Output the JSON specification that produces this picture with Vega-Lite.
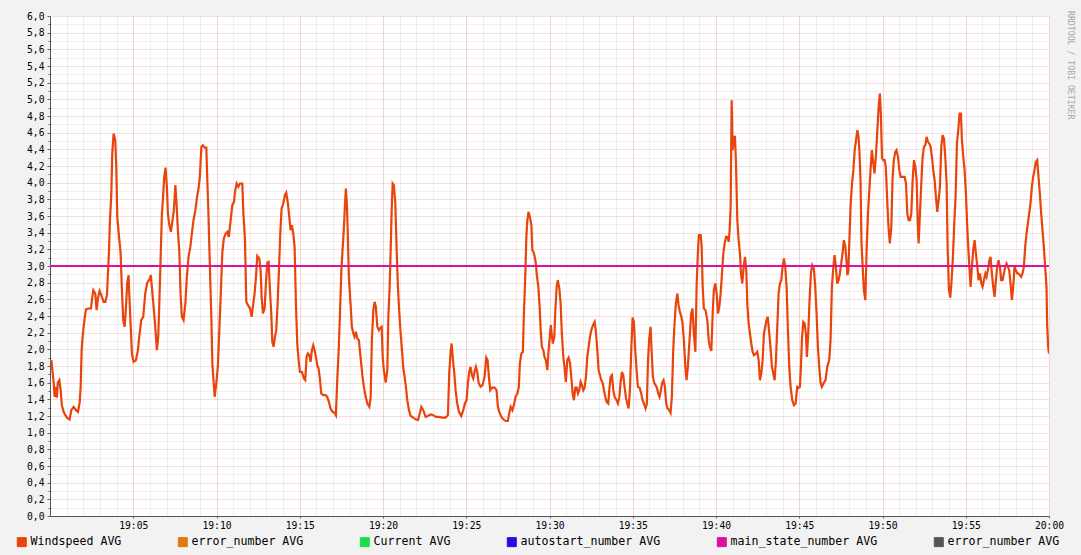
{
  "$schema": "https://vega.github.io/schema/vega-lite/v6.json",
  "width": 999,
  "height": 500,
  "autosize": {"type": "none"},
  "padding": {"left": 50, "top": 16, "right": 32, "bottom": 39},
  "background": "#f2f2f2",
  "view": {"fill": "white", "stroke": null},
  "config": {
    "font": "DejaVu Sans Mono",
    "axis": {"labelFont": "DejaVu Sans Mono", "labelFontSize": 9.7, "labelColor": "#000", "title": null}
  },
  "title": {
    "text": "RRDTOOL / TOBI OETIKER",
    "orient": "right",
    "anchor": "start",
    "angle": 90,
    "font": "DejaVu Sans Mono",
    "fontSize": 8.2,
    "fontWeight": "normal",
    "color": "#a8a8a8",
    "offset": 2
  },
  "datasets": {
    "wind": [
      {"minute":0.08,"speed":1.87},{"minute":0.16,"speed":1.72},{"minute":0.22,"speed":1.60},{"minute":0.28,"speed":1.43},{"minute":0.35,"speed":1.55},{"minute":0.41,"speed":1.42},{"minute":0.47,"speed":1.60},{"minute":0.56,"speed":1.63},{"minute":0.64,"speed":1.51},{"minute":0.71,"speed":1.33},{"minute":0.82,"speed":1.25},{"minute":0.92,"speed":1.21},{"minute":1.02,"speed":1.18},{"minute":1.18,"speed":1.16},{"minute":1.28,"speed":1.27},{"minute":1.42,"speed":1.31},{"minute":1.56,"speed":1.27},{"minute":1.68,"speed":1.25},{"minute":1.78,"speed":1.36},{"minute":1.84,"speed":1.54},{"minute":1.90,"speed":1.99},{"minute":1.96,"speed":2.15},{"minute":2.02,"speed":2.27},{"minute":2.08,"speed":2.37},{"minute":2.16,"speed":2.48},{"minute":2.32,"speed":2.49},{"minute":2.46,"speed":2.49},{"minute":2.52,"speed":2.59},{"minute":2.60,"speed":2.71},{"minute":2.72,"speed":2.67},{"minute":2.80,"speed":2.47},{"minute":2.88,"speed":2.61},{"minute":2.98,"speed":2.70},{"minute":3.08,"speed":2.65},{"minute":3.22,"speed":2.57},{"minute":3.32,"speed":2.57},{"minute":3.42,"speed":2.65},{"minute":3.48,"speed":2.91},{"minute":3.54,"speed":3.16},{"minute":3.60,"speed":3.55},{"minute":3.68,"speed":3.85},{"minute":3.74,"speed":4.35},{"minute":3.82,"speed":4.59},{"minute":3.92,"speed":4.51},{"minute":3.98,"speed":4.19},{"minute":4.04,"speed":3.59},{"minute":4.12,"speed":3.41},{"minute":4.18,"speed":3.28},{"minute":4.24,"speed":3.16},{"minute":4.32,"speed":2.71},{"minute":4.40,"speed":2.35},{"minute":4.48,"speed":2.27},{"minute":4.56,"speed":2.49},{"minute":4.64,"speed":2.80},{"minute":4.72,"speed":2.89},{"minute":4.76,"speed":2.67},{"minute":4.84,"speed":2.31},{"minute":4.92,"speed":1.95},{"minute":5.02,"speed":1.85},{"minute":5.16,"speed":1.87},{"minute":5.28,"speed":1.99},{"minute":5.36,"speed":2.15},{"minute":5.48,"speed":2.35},{"minute":5.60,"speed":2.39},{"minute":5.72,"speed":2.67},{"minute":5.84,"speed":2.80},{"minute":5.98,"speed":2.84},{"minute":6.06,"speed":2.89},{"minute":6.16,"speed":2.65},{"minute":6.24,"speed":2.47},{"minute":6.32,"speed":2.27},{"minute":6.42,"speed":1.99},{"minute":6.50,"speed":2.15},{"minute":6.56,"speed":2.51},{"minute":6.64,"speed":3.07},{"minute":6.72,"speed":3.63},{"minute":6.78,"speed":3.79},{"minute":6.86,"speed":4.07},{"minute":6.94,"speed":4.18},{"minute":7.02,"speed":3.95},{"minute":7.08,"speed":3.63},{"minute":7.17,"speed":3.49},{"minute":7.26,"speed":3.41},{"minute":7.36,"speed":3.55},{"minute":7.44,"speed":3.67},{"minute":7.53,"speed":3.97},{"minute":7.60,"speed":3.75},{"minute":7.68,"speed":3.43},{"minute":7.77,"speed":3.16},{"minute":7.84,"speed":2.67},{"minute":7.92,"speed":2.39},{"minute":8.02,"speed":2.35},{"minute":8.13,"speed":2.55},{"minute":8.22,"speed":2.87},{"minute":8.32,"speed":3.11},{"minute":8.43,"speed":3.23},{"minute":8.52,"speed":3.39},{"minute":8.62,"speed":3.55},{"minute":8.73,"speed":3.67},{"minute":8.82,"speed":3.81},{"minute":8.92,"speed":3.93},{"minute":9.00,"speed":4.07},{"minute":9.09,"speed":4.43},{"minute":9.18,"speed":4.45},{"minute":9.29,"speed":4.42},{"minute":9.39,"speed":4.42},{"minute":9.45,"speed":4.01},{"minute":9.51,"speed":3.67},{"minute":9.57,"speed":3.23},{"minute":9.63,"speed":2.80},{"minute":9.69,"speed":2.39},{"minute":9.75,"speed":1.83},{"minute":9.81,"speed":1.65},{"minute":9.89,"speed":1.43},{"minute":9.99,"speed":1.60},{"minute":10.08,"speed":1.79},{"minute":10.17,"speed":2.23},{"minute":10.25,"speed":2.63},{"minute":10.35,"speed":3.16},{"minute":10.44,"speed":3.33},{"minute":10.55,"speed":3.39},{"minute":10.65,"speed":3.41},{"minute":10.74,"speed":3.35},{"minute":10.85,"speed":3.55},{"minute":10.95,"speed":3.73},{"minute":11.05,"speed":3.77},{"minute":11.11,"speed":3.89},{"minute":11.21,"speed":3.99},{"minute":11.31,"speed":3.95},{"minute":11.41,"speed":3.99},{"minute":11.55,"speed":3.99},{"minute":11.61,"speed":3.65},{"minute":11.71,"speed":3.31},{"minute":11.79,"speed":2.57},{"minute":11.89,"speed":2.53},{"minute":12.01,"speed":2.49},{"minute":12.11,"speed":2.39},{"minute":12.21,"speed":2.55},{"minute":12.29,"speed":2.67},{"minute":12.37,"speed":2.87},{"minute":12.45,"speed":3.12},{"minute":12.57,"speed":3.09},{"minute":12.65,"speed":2.95},{"minute":12.71,"speed":2.63},{"minute":12.79,"speed":2.43},{"minute":12.89,"speed":2.49},{"minute":12.97,"speed":2.80},{"minute":13.05,"speed":3.04},{"minute":13.13,"speed":3.05},{"minute":13.21,"speed":2.71},{"minute":13.29,"speed":2.43},{"minute":13.35,"speed":2.09},{"minute":13.43,"speed":2.03},{"minute":13.51,"speed":2.15},{"minute":13.59,"speed":2.23},{"minute":13.67,"speed":2.55},{"minute":13.75,"speed":2.95},{"minute":13.83,"speed":3.39},{"minute":13.91,"speed":3.69},{"minute":14.01,"speed":3.75},{"minute":14.11,"speed":3.85},{"minute":14.19,"speed":3.88},{"minute":14.29,"speed":3.75},{"minute":14.37,"speed":3.59},{"minute":14.45,"speed":3.43},{"minute":14.53,"speed":3.49},{"minute":14.61,"speed":3.39},{"minute":14.69,"speed":3.23},{"minute":14.77,"speed":2.55},{"minute":14.85,"speed":2.07},{"minute":14.93,"speed":1.87},{"minute":15.01,"speed":1.73},{"minute":15.13,"speed":1.73},{"minute":15.25,"speed":1.65},{"minute":15.33,"speed":1.63},{"minute":15.41,"speed":1.91},{"minute":15.49,"speed":1.95},{"minute":15.57,"speed":1.93},{"minute":15.65,"speed":1.85},{"minute":15.73,"speed":1.99},{"minute":15.81,"speed":2.05},{"minute":15.89,"speed":1.99},{"minute":15.97,"speed":1.91},{"minute":16.05,"speed":1.81},{"minute":16.13,"speed":1.77},{"minute":16.21,"speed":1.65},{"minute":16.29,"speed":1.47},{"minute":16.41,"speed":1.45},{"minute":16.55,"speed":1.45},{"minute":16.65,"speed":1.43},{"minute":16.75,"speed":1.37},{"minute":16.85,"speed":1.29},{"minute":16.97,"speed":1.25},{"minute":17.09,"speed":1.24},{"minute":17.17,"speed":1.21},{"minute":17.26,"speed":1.67},{"minute":17.33,"speed":1.95},{"minute":17.41,"speed":2.39},{"minute":17.50,"speed":2.95},{"minute":17.57,"speed":3.19},{"minute":17.65,"speed":3.45},{"minute":17.71,"speed":3.71},{"minute":17.77,"speed":3.93},{"minute":17.83,"speed":3.75},{"minute":17.89,"speed":3.35},{"minute":17.95,"speed":2.87},{"minute":18.05,"speed":2.55},{"minute":18.13,"speed":2.27},{"minute":18.22,"speed":2.19},{"minute":18.29,"speed":2.15},{"minute":18.37,"speed":2.21},{"minute":18.46,"speed":2.13},{"minute":18.55,"speed":2.11},{"minute":18.65,"speed":1.91},{"minute":18.76,"speed":1.69},{"minute":18.85,"speed":1.55},{"minute":18.96,"speed":1.43},{"minute":19.06,"speed":1.35},{"minute":19.18,"speed":1.31},{"minute":19.26,"speed":1.43},{"minute":19.33,"speed":2.11},{"minute":19.42,"speed":2.47},{"minute":19.50,"speed":2.57},{"minute":19.57,"speed":2.51},{"minute":19.66,"speed":2.27},{"minute":19.75,"speed":2.23},{"minute":19.81,"speed":2.25},{"minute":19.92,"speed":2.27},{"minute":19.98,"speed":1.91},{"minute":20.05,"speed":1.75},{"minute":20.16,"speed":1.60},{"minute":20.26,"speed":1.75},{"minute":20.32,"speed":2.39},{"minute":20.40,"speed":2.75},{"minute":20.46,"speed":3.19},{"minute":20.52,"speed":3.67},{"minute":20.58,"speed":3.99},{"minute":20.65,"speed":3.97},{"minute":20.74,"speed":3.75},{"minute":20.82,"speed":3.19},{"minute":20.90,"speed":2.73},{"minute":20.98,"speed":2.43},{"minute":21.06,"speed":2.19},{"minute":21.14,"speed":1.99},{"minute":21.22,"speed":1.77},{"minute":21.30,"speed":1.67},{"minute":21.38,"speed":1.54},{"minute":21.46,"speed":1.39},{"minute":21.56,"speed":1.27},{"minute":21.66,"speed":1.20},{"minute":21.82,"speed":1.18},{"minute":21.96,"speed":1.16},{"minute":22.10,"speed":1.15},{"minute":22.22,"speed":1.24},{"minute":22.30,"speed":1.31},{"minute":22.42,"speed":1.27},{"minute":22.56,"speed":1.19},{"minute":22.70,"speed":1.20},{"minute":22.86,"speed":1.22},{"minute":23.02,"speed":1.21},{"minute":23.18,"speed":1.19},{"minute":23.36,"speed":1.19},{"minute":23.56,"speed":1.18},{"minute":23.76,"speed":1.18},{"minute":23.90,"speed":1.21},{"minute":23.98,"speed":1.72},{"minute":24.06,"speed":1.97},{"minute":24.12,"speed":2.07},{"minute":24.20,"speed":1.87},{"minute":24.28,"speed":1.72},{"minute":24.36,"speed":1.51},{"minute":24.46,"speed":1.35},{"minute":24.56,"speed":1.25},{"minute":24.70,"speed":1.20},{"minute":24.82,"speed":1.27},{"minute":24.92,"speed":1.35},{"minute":25.02,"speed":1.39},{"minute":25.10,"speed":1.60},{"minute":25.18,"speed":1.73},{"minute":25.26,"speed":1.79},{"minute":25.34,"speed":1.69},{"minute":25.42,"speed":1.65},{"minute":25.50,"speed":1.73},{"minute":25.58,"speed":1.79},{"minute":25.66,"speed":1.73},{"minute":25.74,"speed":1.60},{"minute":25.86,"speed":1.55},{"minute":25.98,"speed":1.57},{"minute":26.10,"speed":1.67},{"minute":26.20,"speed":1.90},{"minute":26.28,"speed":1.87},{"minute":26.36,"speed":1.67},{"minute":26.44,"speed":1.51},{"minute":26.54,"speed":1.54},{"minute":26.70,"speed":1.54},{"minute":26.82,"speed":1.51},{"minute":26.90,"speed":1.31},{"minute":26.98,"speed":1.25},{"minute":27.11,"speed":1.19},{"minute":27.23,"speed":1.16},{"minute":27.36,"speed":1.14},{"minute":27.50,"speed":1.14},{"minute":27.59,"speed":1.24},{"minute":27.67,"speed":1.31},{"minute":27.77,"speed":1.27},{"minute":27.86,"speed":1.33},{"minute":27.96,"speed":1.43},{"minute":28.07,"speed":1.47},{"minute":28.16,"speed":1.55},{"minute":28.22,"speed":1.83},{"minute":28.31,"speed":1.95},{"minute":28.40,"speed":1.97},{"minute":28.46,"speed":2.41},{"minute":28.55,"speed":2.91},{"minute":28.61,"speed":3.35},{"minute":28.67,"speed":3.55},{"minute":28.74,"speed":3.65},{"minute":28.82,"speed":3.59},{"minute":28.91,"speed":3.49},{"minute":28.97,"speed":3.19},{"minute":29.06,"speed":3.16},{"minute":29.17,"speed":3.05},{"minute":29.24,"speed":2.89},{"minute":29.33,"speed":2.75},{"minute":29.41,"speed":2.50},{"minute":29.47,"speed":2.23},{"minute":29.54,"speed":2.03},{"minute":29.63,"speed":1.99},{"minute":29.70,"speed":1.91},{"minute":29.78,"speed":1.87},{"minute":29.87,"speed":1.75},{"minute":29.93,"speed":1.95},{"minute":30.00,"speed":2.11},{"minute":30.08,"speed":2.29},{"minute":30.14,"speed":2.17},{"minute":30.20,"speed":2.07},{"minute":30.29,"speed":2.15},{"minute":30.35,"speed":2.47},{"minute":30.43,"speed":2.75},{"minute":30.50,"speed":2.83},{"minute":30.59,"speed":2.73},{"minute":30.67,"speed":2.55},{"minute":30.74,"speed":2.19},{"minute":30.83,"speed":1.91},{"minute":30.91,"speed":1.77},{"minute":30.98,"speed":1.61},{"minute":31.07,"speed":1.87},{"minute":31.15,"speed":1.90},{"minute":31.23,"speed":1.84},{"minute":31.31,"speed":1.67},{"minute":31.39,"speed":1.47},{"minute":31.47,"speed":1.39},{"minute":31.55,"speed":1.54},{"minute":31.63,"speed":1.54},{"minute":31.71,"speed":1.47},{"minute":31.79,"speed":1.51},{"minute":31.87,"speed":1.61},{"minute":31.95,"speed":1.57},{"minute":32.03,"speed":1.51},{"minute":32.11,"speed":1.54},{"minute":32.19,"speed":1.67},{"minute":32.27,"speed":1.91},{"minute":32.35,"speed":2.03},{"minute":32.43,"speed":2.15},{"minute":32.51,"speed":2.23},{"minute":32.61,"speed":2.29},{"minute":32.71,"speed":2.33},{"minute":32.79,"speed":2.21},{"minute":32.87,"speed":1.99},{"minute":32.95,"speed":1.75},{"minute":33.03,"speed":1.69},{"minute":33.11,"speed":1.63},{"minute":33.19,"speed":1.60},{"minute":33.27,"speed":1.51},{"minute":33.35,"speed":1.43},{"minute":33.43,"speed":1.37},{"minute":33.53,"speed":1.35},{"minute":33.59,"speed":1.51},{"minute":33.67,"speed":1.67},{"minute":33.75,"speed":1.69},{"minute":33.83,"speed":1.51},{"minute":33.91,"speed":1.43},{"minute":34.03,"speed":1.39},{"minute":34.11,"speed":1.35},{"minute":34.19,"speed":1.42},{"minute":34.27,"speed":1.60},{"minute":34.35,"speed":1.73},{"minute":34.43,"speed":1.69},{"minute":34.51,"speed":1.55},{"minute":34.59,"speed":1.42},{"minute":34.67,"speed":1.35},{"minute":34.75,"speed":1.29},{"minute":34.83,"speed":1.51},{"minute":34.91,"speed":1.99},{"minute":34.99,"speed":2.38},{"minute":35.07,"speed":2.33},{"minute":35.15,"speed":1.99},{"minute":35.23,"speed":1.75},{"minute":35.31,"speed":1.55},{"minute":35.41,"speed":1.54},{"minute":35.51,"speed":1.47},{"minute":35.59,"speed":1.39},{"minute":35.67,"speed":1.35},{"minute":35.77,"speed":1.29},{"minute":35.85,"speed":1.35},{"minute":35.91,"speed":1.84},{"minute":35.99,"speed":2.13},{"minute":36.07,"speed":2.27},{"minute":36.13,"speed":1.99},{"minute":36.21,"speed":1.67},{"minute":36.29,"speed":1.60},{"minute":36.37,"speed":1.57},{"minute":36.45,"speed":1.54},{"minute":36.53,"speed":1.47},{"minute":36.61,"speed":1.43},{"minute":36.69,"speed":1.51},{"minute":36.77,"speed":1.60},{"minute":36.85,"speed":1.63},{"minute":36.93,"speed":1.55},{"minute":37.01,"speed":1.35},{"minute":37.09,"speed":1.29},{"minute":37.20,"speed":1.27},{"minute":37.27,"speed":1.24},{"minute":37.35,"speed":1.43},{"minute":37.43,"speed":1.99},{"minute":37.51,"speed":2.31},{"minute":37.59,"speed":2.55},{"minute":37.68,"speed":2.67},{"minute":37.75,"speed":2.53},{"minute":37.83,"speed":2.45},{"minute":37.92,"speed":2.39},{"minute":37.99,"speed":2.31},{"minute":38.07,"speed":2.11},{"minute":38.16,"speed":1.79},{"minute":38.23,"speed":1.63},{"minute":38.31,"speed":1.79},{"minute":38.41,"speed":2.11},{"minute":38.51,"speed":2.43},{"minute":38.59,"speed":2.49},{"minute":38.67,"speed":2.19},{"minute":38.76,"speed":1.97},{"minute":38.84,"speed":2.79},{"minute":38.91,"speed":3.15},{"minute":38.97,"speed":3.37},{"minute":39.08,"speed":3.37},{"minute":39.14,"speed":3.23},{"minute":39.20,"speed":2.75},{"minute":39.27,"speed":2.49},{"minute":39.37,"speed":2.47},{"minute":39.48,"speed":2.35},{"minute":39.56,"speed":2.11},{"minute":39.63,"speed":2.03},{"minute":39.72,"speed":1.98},{"minute":39.80,"speed":2.43},{"minute":39.87,"speed":2.71},{"minute":39.96,"speed":2.79},{"minute":40.04,"speed":2.67},{"minute":40.12,"speed":2.43},{"minute":40.20,"speed":2.51},{"minute":40.28,"speed":2.67},{"minute":40.36,"speed":2.91},{"minute":40.44,"speed":3.15},{"minute":40.52,"speed":3.27},{"minute":40.60,"speed":3.35},{"minute":40.68,"speed":3.35},{"minute":40.76,"speed":3.29},{"minute":40.82,"speed":3.43},{"minute":40.88,"speed":3.71},{"minute":40.94,"speed":4.99},{"minute":41.00,"speed":4.39},{"minute":41.08,"speed":4.55},{"minute":41.14,"speed":4.55},{"minute":41.20,"speed":4.23},{"minute":41.28,"speed":3.55},{"minute":41.36,"speed":3.31},{"minute":41.44,"speed":3.15},{"minute":41.50,"speed":2.91},{"minute":41.58,"speed":2.79},{"minute":41.66,"speed":2.99},{"minute":41.74,"speed":3.11},{"minute":41.82,"speed":2.95},{"minute":41.88,"speed":2.55},{"minute":41.96,"speed":2.31},{"minute":42.04,"speed":2.19},{"minute":42.12,"speed":2.07},{"minute":42.20,"speed":1.97},{"minute":42.28,"speed":1.93},{"minute":42.40,"speed":1.95},{"minute":42.48,"speed":1.97},{"minute":42.56,"speed":1.87},{"minute":42.64,"speed":1.63},{"minute":42.72,"speed":1.71},{"minute":42.80,"speed":1.87},{"minute":42.88,"speed":2.19},{"minute":42.96,"speed":2.27},{"minute":43.03,"speed":2.35},{"minute":43.11,"speed":2.39},{"minute":43.20,"speed":2.19},{"minute":43.27,"speed":2.03},{"minute":43.36,"speed":1.79},{"minute":43.44,"speed":1.71},{"minute":43.52,"speed":1.63},{"minute":43.60,"speed":1.87},{"minute":43.68,"speed":2.27},{"minute":43.76,"speed":2.67},{"minute":43.84,"speed":2.79},{"minute":43.92,"speed":2.83},{"minute":44.00,"speed":2.99},{"minute":44.08,"speed":3.09},{"minute":44.16,"speed":2.99},{"minute":44.24,"speed":2.75},{"minute":44.32,"speed":2.23},{"minute":44.40,"speed":1.79},{"minute":44.48,"speed":1.55},{"minute":44.58,"speed":1.39},{"minute":44.68,"speed":1.33},{"minute":44.78,"speed":1.35},{"minute":44.88,"speed":1.55},{"minute":44.96,"speed":1.54},{"minute":45.04,"speed":1.55},{"minute":45.10,"speed":1.79},{"minute":45.16,"speed":2.11},{"minute":45.24,"speed":2.33},{"minute":45.32,"speed":2.31},{"minute":45.40,"speed":2.19},{"minute":45.46,"speed":1.91},{"minute":45.54,"speed":2.19},{"minute":45.62,"speed":2.59},{"minute":45.70,"speed":2.91},{"minute":45.78,"speed":3.01},{"minute":45.88,"speed":2.97},{"minute":45.96,"speed":2.75},{"minute":46.04,"speed":2.43},{"minute":46.12,"speed":2.03},{"minute":46.20,"speed":1.79},{"minute":46.28,"speed":1.60},{"minute":46.36,"speed":1.55},{"minute":46.48,"speed":1.60},{"minute":46.58,"speed":1.63},{"minute":46.68,"speed":1.79},{"minute":46.80,"speed":1.87},{"minute":46.88,"speed":2.11},{"minute":46.96,"speed":2.75},{"minute":47.05,"speed":2.99},{"minute":47.12,"speed":3.13},{"minute":47.20,"speed":2.99},{"minute":47.28,"speed":2.79},{"minute":47.36,"speed":2.83},{"minute":47.44,"speed":2.91},{"minute":47.52,"speed":3.03},{"minute":47.60,"speed":3.15},{"minute":47.68,"speed":3.31},{"minute":47.77,"speed":3.23},{"minute":47.83,"speed":3.07},{"minute":47.89,"speed":2.89},{"minute":47.95,"speed":2.95},{"minute":48.01,"speed":3.31},{"minute":48.09,"speed":3.75},{"minute":48.17,"speed":3.99},{"minute":48.25,"speed":4.15},{"minute":48.33,"speed":4.39},{"minute":48.41,"speed":4.51},{"minute":48.49,"speed":4.63},{"minute":48.56,"speed":4.55},{"minute":48.62,"speed":4.35},{"minute":48.68,"speed":4.03},{"minute":48.74,"speed":3.27},{"minute":48.82,"speed":2.95},{"minute":48.88,"speed":2.71},{"minute":48.97,"speed":2.59},{"minute":49.05,"speed":3.23},{"minute":49.13,"speed":3.63},{"minute":49.21,"speed":3.91},{"minute":49.28,"speed":4.15},{"minute":49.36,"speed":4.39},{"minute":49.45,"speed":4.23},{"minute":49.52,"speed":4.11},{"minute":49.60,"speed":4.31},{"minute":49.69,"speed":4.63},{"minute":49.77,"speed":4.91},{"minute":49.84,"speed":5.07},{"minute":49.90,"speed":4.83},{"minute":49.97,"speed":4.30},{"minute":50.05,"speed":4.27},{"minute":50.13,"speed":4.27},{"minute":50.20,"speed":4.19},{"minute":50.29,"speed":3.75},{"minute":50.36,"speed":3.47},{"minute":50.44,"speed":3.27},{"minute":50.53,"speed":3.47},{"minute":50.60,"speed":4.03},{"minute":50.68,"speed":4.27},{"minute":50.77,"speed":4.37},{"minute":50.84,"speed":4.39},{"minute":50.93,"speed":4.31},{"minute":51.01,"speed":4.15},{"minute":51.09,"speed":4.07},{"minute":51.21,"speed":4.07},{"minute":51.33,"speed":4.07},{"minute":51.41,"speed":3.99},{"minute":51.49,"speed":3.63},{"minute":51.57,"speed":3.55},{"minute":51.65,"speed":3.55},{"minute":51.73,"speed":3.63},{"minute":51.81,"speed":4.03},{"minute":51.89,"speed":4.27},{"minute":51.97,"speed":4.19},{"minute":52.05,"speed":4.03},{"minute":52.11,"speed":3.55},{"minute":52.17,"speed":3.27},{"minute":52.25,"speed":3.63},{"minute":52.33,"speed":3.99},{"minute":52.41,"speed":4.31},{"minute":52.49,"speed":4.43},{"minute":52.57,"speed":4.45},{"minute":52.65,"speed":4.55},{"minute":52.73,"speed":4.49},{"minute":52.81,"speed":4.47},{"minute":52.89,"speed":4.43},{"minute":52.97,"speed":4.31},{"minute":53.05,"speed":4.15},{"minute":53.13,"speed":4.03},{"minute":53.21,"speed":3.83},{"minute":53.29,"speed":3.65},{"minute":53.37,"speed":3.79},{"minute":53.45,"speed":3.95},{"minute":53.53,"speed":4.43},{"minute":53.61,"speed":4.57},{"minute":53.69,"speed":4.53},{"minute":53.77,"speed":4.31},{"minute":53.85,"speed":3.99},{"minute":53.91,"speed":3.23},{"minute":53.99,"speed":2.71},{"minute":54.07,"speed":2.62},{"minute":54.15,"speed":2.83},{"minute":54.23,"speed":3.11},{"minute":54.31,"speed":3.51},{"minute":54.39,"speed":3.83},{"minute":54.47,"speed":4.47},{"minute":54.55,"speed":4.63},{"minute":54.63,"speed":4.83},{"minute":54.71,"speed":4.83},{"minute":54.77,"speed":4.51},{"minute":54.85,"speed":4.31},{"minute":54.93,"speed":4.15},{"minute":55.01,"speed":3.87},{"minute":55.09,"speed":3.47},{"minute":55.17,"speed":3.15},{"minute":55.23,"speed":2.95},{"minute":55.29,"speed":2.75},{"minute":55.37,"speed":2.99},{"minute":55.45,"speed":3.19},{"minute":55.53,"speed":3.31},{"minute":55.61,"speed":3.15},{"minute":55.70,"speed":2.99},{"minute":55.77,"speed":2.83},{"minute":55.85,"speed":2.91},{"minute":55.94,"speed":2.79},{"minute":56.01,"speed":2.75},{"minute":56.09,"speed":2.83},{"minute":56.18,"speed":2.91},{"minute":56.25,"speed":2.87},{"minute":56.33,"speed":2.95},{"minute":56.42,"speed":3.07},{"minute":56.49,"speed":3.11},{"minute":56.57,"speed":2.91},{"minute":56.65,"speed":2.75},{"minute":56.73,"speed":2.63},{"minute":56.81,"speed":2.83},{"minute":56.89,"speed":2.99},{"minute":56.97,"speed":3.07},{"minute":57.05,"speed":2.99},{"minute":57.13,"speed":2.83},{"minute":57.21,"speed":2.83},{"minute":57.29,"speed":2.91},{"minute":57.37,"speed":2.99},{"minute":57.45,"speed":3.03},{"minute":57.53,"speed":2.99},{"minute":57.61,"speed":2.95},{"minute":57.69,"speed":2.79},{"minute":57.77,"speed":2.59},{"minute":57.85,"speed":2.75},{"minute":57.93,"speed":2.99},{"minute":58.01,"speed":2.95},{"minute":58.09,"speed":2.91},{"minute":58.17,"speed":2.91},{"minute":58.25,"speed":2.89},{"minute":58.33,"speed":2.87},{"minute":58.41,"speed":2.91},{"minute":58.49,"speed":2.99},{"minute":58.57,"speed":3.23},{"minute":58.65,"speed":3.39},{"minute":58.73,"speed":3.51},{"minute":58.81,"speed":3.63},{"minute":58.89,"speed":3.75},{"minute":58.97,"speed":3.95},{"minute":59.05,"speed":4.07},{"minute":59.13,"speed":4.15},{"minute":59.21,"speed":4.25},{"minute":59.29,"speed":4.27},{"minute":59.37,"speed":4.07},{"minute":59.45,"speed":3.87},{"minute":59.53,"speed":3.63},{"minute":59.61,"speed":3.43},{"minute":59.69,"speed":3.23},{"minute":59.77,"speed":2.99},{"minute":59.85,"speed":2.75},{"minute":59.89,"speed":2.29},{"minute":59.95,"speed":2.03},{"minute":60.0,"speed":1.95}
    ],
    "mainstate": [
      {"minute": 0.0, "speed": 3.0},
      {"minute": 60.0, "speed": 3.0}
    ]
  },
  "resolve": {"axis": {"x": "independent", "y": "independent"}},
  "layer": [
    {
      "data": {"name": "wind"},
      "mark": {"type": "line", "strokeWidth": 2.2, "clip": true},
      "encoding": {
        "x": {
          "field": "minute", "type": "quantitative",
          "scale": {"domain": [0, 60], "nice": false, "zero": false},
          "axis": {
            "orient": "bottom", "values": [0,1,2,3,4,5,6,7,8,9,10,11,12,13,14,15,16,17,18,19,20,21,22,23,24,25,26,27,28,29,30,31,32,33,34,35,36,37,38,39,40,41,42,43,44,45,46,47,48,49,50,51,52,53,54,55,56,57,58,59,60],
            "labels": false, "domain": false, "ticks": false,
            "grid": true, "gridColor": "#e0e0e0", "gridDash": [1, 1], "gridWidth": 1
          }
        },
        "y": {
          "field": "speed", "type": "quantitative",
          "scale": {"domain": [0, 6], "nice": false, "zero": true},
          "axis": {
            "orient": "left", "values": [0.1,0.3,0.5,0.7,0.9,1.1,1.3,1.5,1.7,1.9,2.1,2.3,2.5,2.7,2.9,3.1,3.3,3.5,3.7,3.9,4.1,4.3,4.5,4.7,4.9,5.1,5.3,5.5,5.7,5.9],
            "labels": false, "domain": false, "ticks": true, "tickSize": 2, "tickColor": "#666", "tickOffset": 0,
            "grid": true, "gridColor": "#e0e0e0", "gridDash": [1, 1], "gridWidth": 1
          }
        },
        "color": {
          "datum": "ws",
          "scale": {
            "domain": ["ws", "err1", "cur", "auto", "main", "err2"],
            "range": ["#e8440c", "#e07a10", "#1fdc4b", "#2a0ae0", "#e0109f", "#555555"]
          },
          "legend": {
            "orient": "none", "legendX": -34, "legendY": 520,
            "direction": "horizontal", "title": null,
            "columnPadding": 54, "gridAlign": "each",
            "symbolType": "square", "symbolSize": 81, "symbolStrokeWidth": 1,
            "labelFont": "DejaVu Sans Mono", "labelFontSize": 11.6, "labelColor": "#000", "labelOffset": 3, "labelLimit": 300,
            "labelExpr": "datum.value == 'ws' ? 'Windspeed AVG' : datum.value == 'err1' ? 'error_number AVG' : datum.value == 'cur' ? 'Current AVG' : datum.value == 'auto' ? 'autostart_number AVG' : datum.value == 'main' ? 'main_state_number AVG' : 'error_number AVG'",
            "encode": {
              "symbols": {
                "update": {
                  "fill": {"scale": "color", "field": "value"},
                  "stroke": {"value": "#000000"},
                  "strokeWidth": {"value": 1},
                  "opacity": {"value": 1}
                }
              }
            }
          }
        }
      }
    },
    {
      "data": {"name": "mainstate"},
      "mark": {"type": "line", "strokeWidth": 2},
      "encoding": {
        "x": {
          "field": "minute", "type": "quantitative",
          "axis": {
            "orient": "bottom", "values": [5,10,15,20,25,30,35,40,45,50,55,60],
            "labelExpr": "datum.value == 60 ? '20:00' : '19:' + (datum.value < 10 ? '0' : '') + datum.value",
            "labelPadding": 2, "labelFlush": false, "labelOverlap": false,
            "domain": true, "domainColor": "#555", "domainWidth": 1,
            "ticks": true, "tickSize": 2, "tickColor": "#666",
            "grid": true, "gridColor": "#f2bcbc", "gridDash": [1, 1], "gridWidth": 1
          }
        },
        "y": {
          "field": "speed", "type": "quantitative",
          "axis": {
            "orient": "left", "values": [0,0.2,0.4,0.6,0.8,1.0,1.2,1.4,1.6,1.8,2.0,2.2,2.4,2.6,2.8,3.0,3.2,3.4,3.6,3.8,4.0,4.2,4.4,4.6,4.8,5.0,5.2,5.4,5.6,5.8,6.0],
            "labelExpr": "replace(format(datum.value, '.1f'), '.', ',')",
            "labelPadding": 3, "labelFlush": false, "labelOverlap": false,
            "domain": true, "domainColor": "#555", "domainWidth": 1,
            "ticks": true, "tickSize": 3, "tickColor": "#666",
            "grid": true, "gridColor": "#f2bcbc", "gridDash": [1, 1], "gridWidth": 1
          }
        },
        "color": {"datum": "main"}
      }
    },
    {
      "mark": {"type": "point", "shape": "triangle-up", "filled": true, "size": 28, "color": "#8b1a1a", "clip": false},
      "encoding": {
        "x": {"datum": 0, "type": "quantitative", "axis": null},
        "y": {"datum": 6.08, "type": "quantitative", "axis": null}
      }
    },
    {
      "mark": {"type": "point", "shape": "triangle-right", "filled": true, "size": 28, "color": "#8b1a1a", "clip": false},
      "encoding": {
        "x": {"datum": 60.25, "type": "quantitative", "axis": null},
        "y": {"datum": 0, "type": "quantitative", "axis": null}
      }
    }
  ]
}
